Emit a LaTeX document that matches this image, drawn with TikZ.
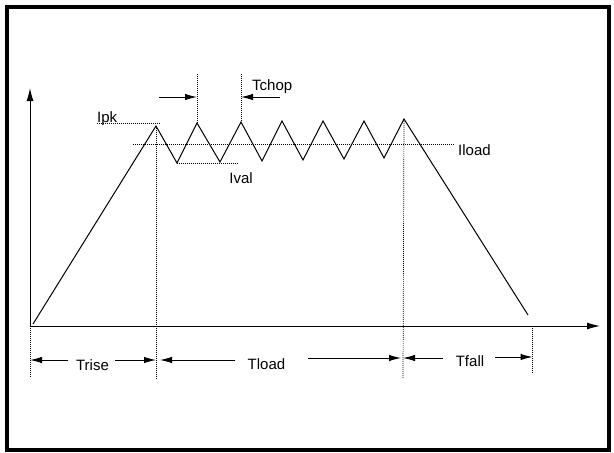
\documentclass[tikz,border=0pt]{standalone}
\usepackage{fontspec}
\setmainfont{Liberation Sans}
\usetikzlibrary{arrows.meta}

\tikzset{
  wave/.style={line width=1pt, line join=miter},
  guide/.style={line width=0.7pt, dash pattern=on 1pt off 1pt},
  dimarrow/.style={line width=1pt, -{Latex[length=12pt,width=6.5pt]}},
  axisarrow/.style={line width=1pt, -{Latex[length=13pt,width=7pt]}},
  lbl/.style={inner sep=0pt, font=\fontsize{15}{18}\selectfont},
}

\begin{document}
\begin{tikzpicture}[x=1pt, y=-1pt]
  \useasboundingbox (0,0) rectangle (614,453);
  \draw[line width=3.5pt] (7,7) rectangle (609,450);

  % axes
  \coordinate (o) at (30,326);
  \coordinate (ytop) at (30,88);
  \coordinate (xend) at (600,326);
  \draw[axisarrow] (o) -- (ytop);
  \draw[axisarrow] (o) -- (xend);

  % current waveform
  \coordinate (start) at (33,324);
  \coordinate (pk1) at (156,126); \coordinate (v1) at (177,163);
  \coordinate (pk2) at (197,123); \coordinate (v2) at (220,162);
  \coordinate (pk3) at (241,122); \coordinate (v3) at (262,161);
  \coordinate (pk4) at (282,121); \coordinate (v4) at (303,160);
  \coordinate (pk5) at (323,121); \coordinate (v5) at (344,159);
  \coordinate (pk6) at (364,121); \coordinate (v6) at (384,158);
  \coordinate (pk7) at (404,119);
  \coordinate (stop) at (528,315);
  \draw[wave] (start) -- (pk1) -- (v1) -- (pk2) -- (v2) -- (pk3) -- (v3)
    -- (pk4) -- (v4) -- (pk5) -- (v5) -- (pk6) -- (v6) -- (pk7) -- (stop);

  % current levels
  \node[lbl, anchor=base west] (ipk) at (97,122) {Ipk};
  \coordinate (ipkend) at (160,123.5);
  \draw[guide] (ipk.base west |- ipkend) -- (ipkend);
  \coordinate (iloadbeg) at (133,144.5);
  \coordinate (iloadend) at (455,144.5);
  \draw[guide] (iloadbeg) -- (iloadend);
  \node[lbl, anchor=west] (iload) at (458,150) {Iload};
  \coordinate (ivalend) at (238,163);
  \draw[guide] (v1) -- (ivalend);
  \node[lbl] (ival) at (241,178.5) {Ival};

  % chopping period
  \coordinate (chopa) at (197,74);
  \coordinate (chopb) at (241,74);
  \draw[guide] (chopa) -- (pk2);
  \draw[guide] (chopb) -- (pk3);
  \node[lbl, anchor=west] (tchop) at (252,87) {Tchop};
  \coordinate (chopl) at (159,97);
  \coordinate (chopr) at (280,97);
  \draw[dimarrow] (chopl) -- (chopa |- chopl);
  \draw[dimarrow] (chopr) -- (chopb |- chopr);

  % time markers
  \coordinate (m0) at (30,377);
  \coordinate (m1) at (156,380);
  \coordinate (m2) at (403,378);
  \coordinate (m3) at (532.5,374);
  \draw[guide] (o) -- (m0);
  \draw[guide] (pk1) -- (m1);
  \draw[guide] (pk7) -- (m2);
  \draw[guide] (m3 |- o) -- (m3);

  % time spans
  \node[lbl] (trise) at (92.5,365) {Trise};
  \node[lbl] (tload) at (266.5,364) {Tload};
  \node[lbl] (tfall) at (470,361) {Tfall};
  \coordinate (ra) at (68,360);  \coordinate (rb) at (115,360);
  \coordinate (la) at (235,360); \coordinate (lb) at (308,358);
  \coordinate (fa) at (443,358); \coordinate (fb) at (495,357);
  \draw[dimarrow] (ra) -- (m0 |- ra);
  \draw[dimarrow] (rb) -- (m1 |- rb);
  \draw[dimarrow] (la) -- ([xshift=4pt]m1 |- la);
  \draw[dimarrow] (lb) -- ([xshift=-2pt]m2 |- lb);
  \draw[dimarrow] (fa) -- (m2 |- fa);
  \draw[dimarrow] (fb) -- (m3 |- fb);
\end{tikzpicture}
\end{document}
